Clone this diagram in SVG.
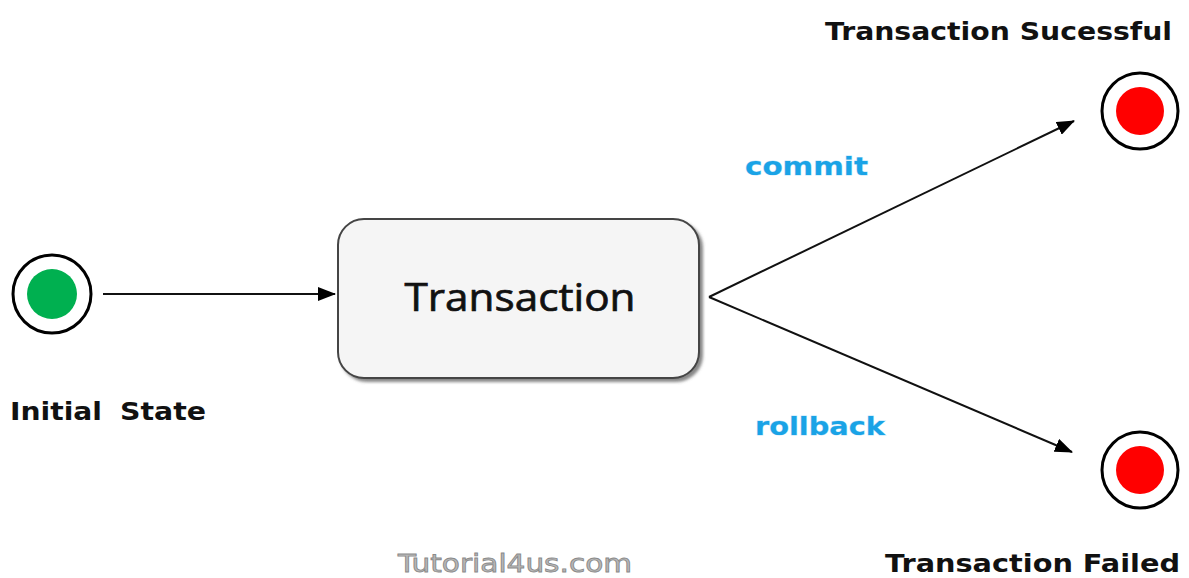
<svg xmlns="http://www.w3.org/2000/svg" width="1189" height="578" viewBox="0 0 1189 578">
  <style>
    .ring { fill: #ffffff; stroke: #000000; stroke-width: 3; }
    .label { font-family: "DejaVu Sans", Verdana, sans-serif; font-weight: bold; font-size: 24px; fill: #111111; }
    .event { font-family: "DejaVu Sans", Verdana, sans-serif; font-weight: bold; font-size: 24px; fill: #1aa3e6; stroke: #bfe6fa; stroke-width: 0.8; paint-order: stroke; }
    .edge { fill: none; stroke: #111111; stroke-width: 2; }
    .mark { font-family: "DejaVu Sans", Verdana, sans-serif; font-size: 24px; fill: #b8b8b8; stroke: #8a8a8a; stroke-width: 0.8; }
  </style>
  <defs>
    <marker id="arrow" markerWidth="18" markerHeight="14" refX="17" refY="7" orient="auto" markerUnits="userSpaceOnUse">
      <path d="M0,0 L18,7 L0,14 Z" fill="#000000"/>
    </marker>
    <filter id="shadow" x="-5%" y="-5%" width="115%" height="120%">
      <feDropShadow dx="3" dy="3" stdDeviation="1.5" flood-color="#555555" flood-opacity="0.7"/>
    </filter>
  </defs>
  <rect width="1189" height="578" fill="#ffffff"/>

  <!-- initial state -->
  <g id="initial">
    <circle class="ring" cx="52" cy="294" r="39"/>
    <circle cx="52" cy="294" r="25" fill="#00b050"/>
    <text class="label" x="10" y="420" textLength="92" lengthAdjust="spacingAndGlyphs">Initial</text>
    <text class="label" x="120" y="420" textLength="86" lengthAdjust="spacingAndGlyphs">State</text>
  </g>

  <!-- transaction state -->
  <g id="transaction">
    <rect x="338" y="219" width="361" height="159" rx="26" ry="26" fill="#f5f5f5" stroke="#444444" stroke-width="2" filter="url(#shadow)"/>
    <text x="520" y="311" text-anchor="middle" font-family="'Open Sans', 'Liberation Sans', sans-serif" font-size="38" fill="#111111" stroke="#111111" stroke-width="0.7" textLength="231" lengthAdjust="spacingAndGlyphs">Transaction</text>
  </g>

  <!-- final states -->
  <g id="success">
    <circle class="ring" cx="1140" cy="111" r="38"/>
    <circle cx="1140" cy="111" r="24" fill="#ff0000"/>
    <text class="label" x="825" y="40" textLength="347" lengthAdjust="spacingAndGlyphs">Transaction Sucessful</text>
  </g>
  <g id="failed">
    <circle class="ring" cx="1140" cy="470" r="38"/>
    <circle cx="1140" cy="470" r="24" fill="#ff0000"/>
    <text class="label" x="885" y="572" textLength="295" lengthAdjust="spacingAndGlyphs">Transaction Failed</text>
  </g>

  <!-- transitions -->
  <g id="connectors">
    <line class="edge" x1="103" y1="294" x2="335" y2="294" marker-end="url(#arrow)"/>
    <line class="edge" x1="709" y1="297" x2="1074" y2="121" marker-end="url(#arrow)"/>
    <line class="edge" x1="709" y1="297" x2="1072" y2="452" marker-end="url(#arrow)"/>
    <text class="event" x="745" y="175" textLength="123" lengthAdjust="spacingAndGlyphs">commit</text>
    <text class="event" x="755" y="435" textLength="130" lengthAdjust="spacingAndGlyphs">rollback</text>
  </g>

  <text class="mark" x="398" y="572" textLength="234" lengthAdjust="spacingAndGlyphs">Tutorial4us.com</text>
</svg>
